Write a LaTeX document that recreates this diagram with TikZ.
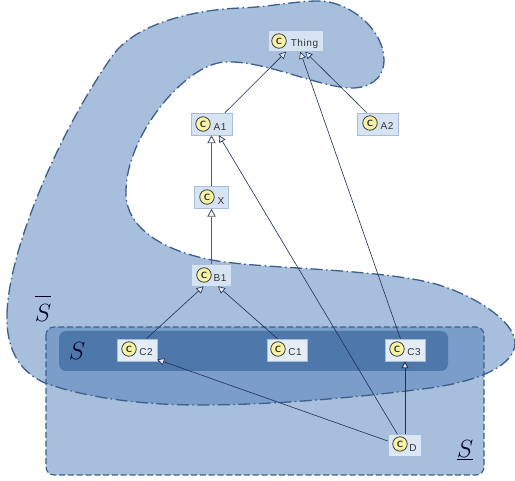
\documentclass[tikz,border=0pt]{standalone}
\usepackage{fontspec}
\usetikzlibrary{arrows.meta}
\newfontfamily\clsfont[LetterSpace=6]{Liberation Sans}
\definecolor{blobfill}{HTML}{A7BFDD}
\definecolor{overlapfill}{HTML}{7A9DC9}
\definecolor{corefill}{HTML}{4F78AA}
\definecolor{edgeblue}{HTML}{3E5F8B}
\definecolor{linknavy}{HTML}{1E2E58}
\definecolor{linkgrey}{HTML}{55596A}
\definecolor{clsa}{HTML}{D6E3F3}
\definecolor{clsb}{HTML}{E4EDF7}
\definecolor{clsc}{HTML}{DCE7F5}
\definecolor{clsedge}{HTML}{A9BDD6}
\definecolor{iconfill}{HTML}{F6F2A6}
\def\blobpath{(7,315) .. controls (8,250) and (60,130) .. (113,55)
 .. controls (135,25) and (190,10) .. (240,8)
 .. controls (270,7) and (295,1) .. (318,1)
 .. controls (350,1) and (384,30) .. (384,60)
 .. controls (384,80) and (368,88) .. (352,88)
 .. controls (320,88) and (265,60) .. (225,62)
 .. controls (185,64) and (127,135) .. (126,190)
 .. controls (124,226) and (160,250) .. (212,260)
 .. controls (260,269) and (370,268) .. (432,283)
 .. controls (470,293) and (515,320) .. (515,343)
 .. controls (515,365) and (480,381) .. (430,388)
 .. controls (370,396) and (280,405) .. (200,405)
 .. controls (120,405) and (70,392) .. (45,383)
 .. controls (20,372) and (6,350) .. (7,315) -- cycle}
\tikzset{
  blobedge/.style={draw=edgeblue,line width=1.3pt,dash pattern=on 12pt off 3.5pt on 1.5pt off 3.5pt},
  scopeedge/.style={draw=edgeblue,line width=1.1pt,dash pattern=on 6pt off 2.8pt},
  cls/.style={draw=clsedge,fill=clsa,line width=0.5pt,inner sep=0pt,minimum width=41pt,minimum height=22pt},
  clsname/.style={inner sep=0pt,font=\clsfont\fontsize{10}{10}\selectfont,text=black!80},
  icon/.style={circle,draw=black!75,fill=iconfill,line width=0.8pt,minimum size=14.5pt,inner sep=0pt,font=\sffamily\bfseries\fontsize{9}{9}\selectfont,text=black!85},
  link/.style={draw=linknavy,line width=0.6pt,-{Triangle[open,length=7pt,width=7pt,fill=clsb]}},
  heavylink/.style={draw=linkgrey,line width=1.2pt,-{Triangle[open,length=8pt,width=8.5pt,fill=white,line width=0.9pt]}},
  mathlabel/.style={inner sep=0pt,anchor=base,text=black!85!blue,font=\fontsize{24}{24}\selectfont}
}
\begin{document}
\begin{tikzpicture}[x=1pt,y=-1pt]
\useasboundingbox (0,0) rectangle (515,481);
\fill[white] (0,0) rectangle (515,481);
% regions
\fill[blobfill] \blobpath;
\fill[blobfill,rounded corners=8pt] (46,327) rectangle (484,475);
\begin{scope}
  \clip[rounded corners=8pt] (46,327) rectangle (484,475);
  \fill[overlapfill] \blobpath;
\end{scope}
\fill[corefill,rounded corners=7pt] (59,331) rectangle (448,371);
\path[blobedge] \blobpath;
\draw[scopeedge,rounded corners=8pt] (46,327) rectangle (484,475);
% labels
\node[mathlabel] (sup) at (43,322) {$\overline{\rule{0pt}{24pt}S}$};
\node[mathlabel] (sin) at (77,360) {$S$};
\node[mathlabel] (sub) at (465,458) {$\underline{S}$};
% classes
\node[cls,minimum width=55pt,minimum height=21pt] (thing) at (295.5,41) {};
\node[cls] (a1) at (211.5,124) {};
\node[cls] (a2) at (378,124) {};
\node[cls,minimum width=34pt] (x) at (211,197.5) {};
\node[cls,minimum width=40pt] (b1) at (211.5,275) {};
\node[cls,fill=clsb,minimum width=40pt] (c2) at (137,350) {};
\node[cls,fill=clsb,minimum width=40pt] (c1) at (287,350) {};
\node[cls,fill=clsb,minimum width=40pt] (c3) at (405,350) {};
\node[cls,fill=clsc,minimum width=33pt] (d) at (404.5,445.5) {};
% class icons and names
\node[icon] (ithing) at (279,41) {C};
\node[clsname] (nthing) at (304.5,44) {Thing};
\node[icon] (ia1) at (203,124) {C};
\node[clsname] (na1) at (220,127) {A1};
\node[icon] (ia2) at (370,123) {C};
\node[clsname] (na2) at (387,126.5) {A2};
\node[icon] (ix) at (207,197) {C};
\node[clsname] (nx) at (221,201) {X};
\node[icon] (ib1) at (204,275) {C};
\node[clsname] (nb1) at (220,278) {B1};
\node[icon] (ic2) at (129,349) {C};
\node[clsname] (nc2) at (146,352) {C2};
\node[icon] (ic1) at (278,349) {C};
\node[clsname] (nc1) at (295,352) {C1};
\node[icon] (ic3) at (397,349) {C};
\node[clsname] (nc3) at (414,352) {C3};
\node[icon] (id) at (400,444) {C};
\node[clsname] (nd) at (413,448) {D};
% connectors
\draw[link] (a1.40) -- (thing.-131);
\draw[link] (a2.135) -- (thing.-48);
\draw[link] (c3.112) -- (thing.-66);
\draw[heavylink] (a1.south |- x.north) -- (a1.south);
\draw[heavylink] (a1.south |- b1.north) -- (a1.south |- x.south);
\draw[link] (d.122) -- (a1.-57);
\draw[link] (c2.50) -- (b1.-125);
\draw[link] (c1.130) -- (b1.-60);
\draw[link] (d.165) -- (c2.-25);
\draw[link,line width=0.9pt] (c3.south |- d.north) -- (c3.south);
\end{tikzpicture}
\end{document}
